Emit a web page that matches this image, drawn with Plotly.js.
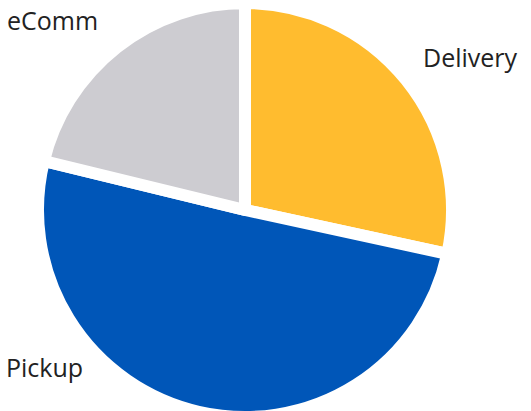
<!DOCTYPE html>
<html>
<head>
<meta charset="utf-8">
<script src="https://cdn.plot.ly/plotly-3.0.1.min.js"></script>
<style>
  html, body { margin: 0; padding: 0; overflow: hidden; background: #fff; }
  #chart { width: 531px; height: 430px; }
</style>
</head>
<body>
<div id="chart"></div>
<script>
// Data
const categories = ["Delivery", "Pickup", "eComm"];
const shares = [28.4, 50.4, 21.2];
const sliceColors = ["#FFBC2F", "#0056B8", "#CDCCD1"];

const W = 531, H = 430;
const cx = 245, cy = 210, R = 207;

// label placements (pixel positions, left anchored)
const labelPos = {
  "Delivery": [421, 57],
  "Pickup": [4, 367],
  "eComm": [5, 20]
};

const trace = {
  type: "pie",
  labels: categories,
  values: shares,
  sort: false,
  direction: "clockwise",
  rotation: 0,
  textinfo: "none",
  hoverinfo: "label+percent",
  marker: { colors: sliceColors, line: { color: "#ffffff", width: 12 } },
  domain: {
    x: [(cx - R) / W, (cx + R) / W],
    y: [(H - cy - R) / H, (H - cy + R) / H]
  },
  showlegend: false
};

const annotations = categories.map(c => ({
  text: c,
  xref: "paper", yref: "paper",
  x: labelPos[c][0] / W,
  y: 1 - labelPos[c][1] / H,
  xanchor: "left", yanchor: "middle",
  showarrow: false,
  font: { family: "Open Sans, sans-serif", size: 25, color: "#222222" }
}));

Plotly.newPlot("chart", [trace], {
  width: W, height: H,
  margin: { l: 0, r: 0, t: 0, b: 0 },
  paper_bgcolor: "#ffffff",
  showlegend: false,
  annotations: annotations
}, { displayModeBar: false, staticPlot: true });
</script>
</body>
</html>
